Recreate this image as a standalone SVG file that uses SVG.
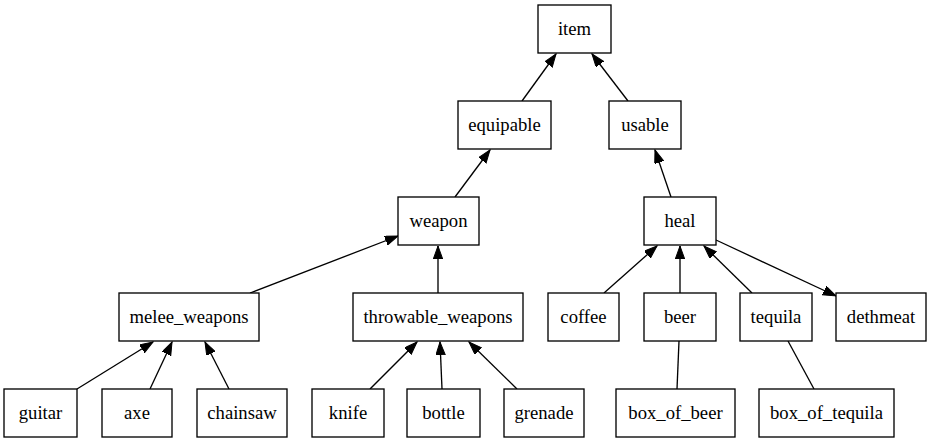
<svg xmlns="http://www.w3.org/2000/svg" width="931" height="443" viewBox="0 0 931 443">
<style>
.n rect{fill:#fff;stroke:#000;stroke-width:1.33}
.n text{font-family:"Liberation Serif","Times New Roman",serif;font-size:18.67px;text-anchor:middle;fill:#000}
#edges line{stroke:#000;stroke-width:1.33}
#edges line.a{marker-end:url(#arr)}
</style>
<defs>
<marker id="arr" markerUnits="userSpaceOnUse" markerWidth="14" markerHeight="10" refX="13" refY="4.7" orient="auto">
<path d="M0,0 L13,4.7 L0,9.4 z" fill="#000" stroke="#000" stroke-width="1"/>
</marker>
</defs>
<rect width="931" height="443" fill="#fff"/>
<g id="edges">
<line class="a" x1="522" y1="101" x2="556" y2="54"/>
<line class="a" x1="628" y1="101" x2="592" y2="54"/>
<line class="a" x1="455" y1="197" x2="490" y2="150"/>
<line class="a" x1="671" y1="197" x2="655" y2="150"/>
<line class="a" x1="250" y1="293" x2="398" y2="236"/>
<line class="a" x1="438" y1="293" x2="438" y2="246"/>
<line class="a" x1="604" y1="293" x2="657" y2="246"/>
<line class="a" x1="680" y1="293" x2="680" y2="246"/>
<line class="a" x1="752" y1="293" x2="704" y2="246"/>
<line class="a" x1="716" y1="240" x2="836" y2="296"/>
<line class="a" x1="77" y1="389" x2="153" y2="342"/>
<line class="a" x1="150" y1="389" x2="172" y2="342"/>
<line class="a" x1="229" y1="389" x2="205" y2="342"/>
<line class="a" x1="370" y1="389" x2="417" y2="342"/>
<line class="a" x1="442" y1="389" x2="440" y2="342"/>
<line class="a" x1="517" y1="389" x2="469" y2="342"/>
<line x1="677" y1="389" x2="679" y2="341"/>
<line x1="814" y1="389" x2="788" y2="341"/>
</g>
<g id="item" class="n"><rect x="538" y="5" width="73" height="48"/><text x="574.5" y="34.5">item</text></g>
<g id="equipable" class="n"><rect x="458" y="101" width="93" height="48"/><text x="504.5" y="130.5">equipable</text></g>
<g id="usable" class="n"><rect x="609" y="101" width="72" height="48"/><text x="645" y="130.5">usable</text></g>
<g id="weapon" class="n"><rect x="398" y="197" width="81" height="48"/><text x="438.5" y="226.5">weapon</text></g>
<g id="heal" class="n"><rect x="644" y="197" width="72" height="48"/><text x="680" y="226.5">heal</text></g>
<g id="melee_weapons" class="n"><rect x="119" y="293" width="140" height="48"/><text x="189" y="322.5">melee_weapons</text></g>
<g id="throwable_weapons" class="n"><rect x="353" y="293" width="170" height="48"/><text x="438" y="322.5">throwable_weapons</text></g>
<g id="coffee" class="n"><rect x="548" y="293" width="71" height="48"/><text x="583.5" y="322.5">coffee</text></g>
<g id="beer" class="n"><rect x="644" y="293" width="72" height="48"/><text x="680" y="322.5">beer</text></g>
<g id="tequila" class="n"><rect x="740" y="293" width="72" height="48"/><text x="776" y="322.5">tequila</text></g>
<g id="dethmeat" class="n"><rect x="836" y="293" width="90" height="48"/><text x="881" y="322.5">dethmeat</text></g>
<g id="guitar" class="n"><rect x="4" y="389" width="73" height="48"/><text x="40.5" y="418.5">guitar</text></g>
<g id="axe" class="n"><rect x="102" y="389" width="70" height="48"/><text x="137" y="418.5">axe</text></g>
<g id="chainsaw" class="n"><rect x="197" y="389" width="90" height="48"/><text x="242" y="418.5">chainsaw</text></g>
<g id="knife" class="n"><rect x="312" y="389" width="72" height="48"/><text x="348" y="418.5">knife</text></g>
<g id="bottle" class="n"><rect x="407" y="389" width="73" height="48"/><text x="443.5" y="418.5">bottle</text></g>
<g id="grenade" class="n"><rect x="504" y="389" width="80" height="48"/><text x="544" y="418.5">grenade</text></g>
<g id="box_of_beer" class="n"><rect x="616" y="389" width="119" height="48"/><text x="675.5" y="418.5">box_of_beer</text></g>
<g id="box_of_tequila" class="n"><rect x="759" y="389" width="135" height="48"/><text x="826.5" y="418.5">box_of_tequila</text></g>
</svg>
